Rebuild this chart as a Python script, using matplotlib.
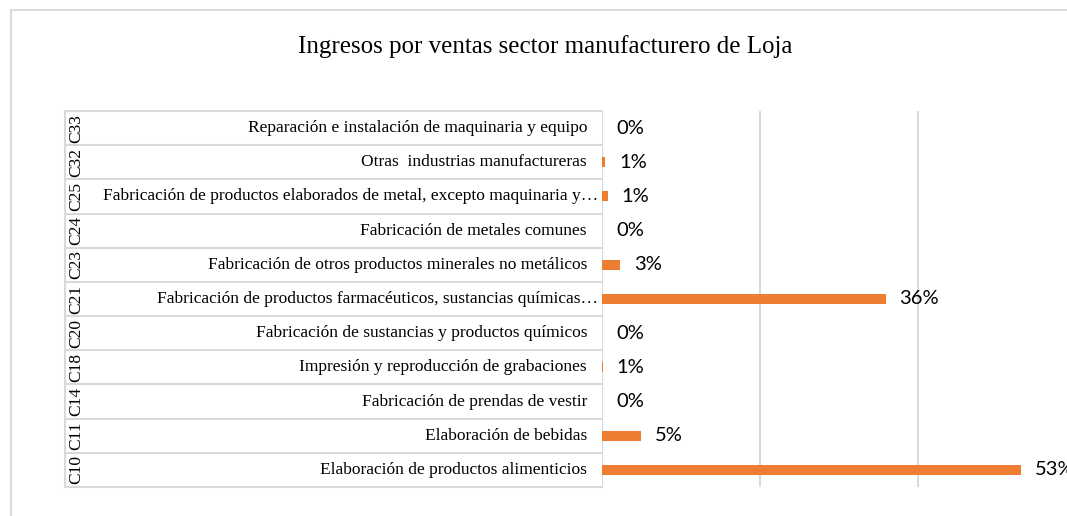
import matplotlib
matplotlib.use("Agg")
import matplotlib.pyplot as plt
from matplotlib.lines import Line2D
from matplotlib.transforms import blended_transform_factory

# Data (bottom row first)
codes = ['C10', 'C11', 'C14', 'C18', 'C20', 'C21', 'C23', 'C24', 'C25', 'C32', 'C33']
sectors = [
    'Elaboración de productos alimenticios',
    'Elaboración de bebidas',
    'Fabricación de prendas de vestir',
    'Impresión y reproducción de grabaciones',
    'Fabricación de sustancias y productos químicos',
    'Fabricación de productos farmacéuticos, sustancias químicas…',
    'Fabricación de otros productos minerales no metálicos',
    'Fabricación de metales comunes',
    'Fabricación de productos elaborados de metal, excepto maquinaria y…',
    'Otras  industrias manufactureras',
    'Reparación e instalación de maquinaria y equipo',
]
shares = [53.0, 4.9, 0.0, 0.1, 0.0, 35.9, 2.3, 0.0, 0.7, 0.4, 0.0]
share_labels = ['53%', '5%', '0%', '1%', '0%', '36%', '3%', '0%', '1%', '1%', '0%']

W, H = 1067, 516
grid_col = '#D9D9D9'
bar_col = '#ED7D31'

fig = plt.figure(figsize=(W / 100, H / 100), dpi=100)

# plot area in pixels
x0, x1 = 602, 1076
y_top, y_bot = 111, 487
ax = fig.add_axes([x0 / W, 1 - y_bot / H, (x1 - x0) / W, (y_bot - y_top) / H])

pos = list(range(len(codes)))
ax.barh(pos, shares, height=0.29, color=bar_col, zorder=3)
ax.set_xlim(0, 60)
ax.set_ylim(-0.5, len(codes) - 0.5)
ax.set_xticks([0, 20, 40, 60])
ax.set_yticks([])
ax.tick_params(axis='x', length=0, labelbottom=False)
ax.grid(axis='x', color=grid_col, linewidth=1.5, zorder=0)
for s in ax.spines.values():
    s.set_visible(False)
ax.axvline(0, color=grid_col, linewidth=1.5, zorder=1)

# data labels
for p, v, lab in zip(pos, shares, share_labels):
    ax.annotate(lab, (v, p), xytext=(14, 0), textcoords='offset pixels',
                ha='left', va='center', fontsize=14.5, family='Lato',
                color='#000000', annotation_clip=False)

# category table to the left of the plot
tr = blended_transform_factory(fig.transFigure, ax.transData)
left_px = 65
for i in range(len(codes) + 1):
    fig.add_artist(Line2D([left_px / W, x0 / W], [i - 0.5, i - 0.5], transform=tr,
                          color=grid_col, linewidth=1.5))
fig.add_artist(Line2D([left_px / W, left_px / W], [-0.5, len(codes) - 0.5], transform=tr,
                      color=grid_col, linewidth=1.5))

for p, code, name in zip(pos, codes, sectors):
    xr = 598 if name.endswith('…') else 587
    fig.text(xr / W, p, name, transform=tr, ha='right', va='center',
             fontsize=12.5, family='Liberation Serif')
    fig.text(76 / W, p, code, transform=tr, ha='center', va='center',
             rotation=90, fontsize=12.5, family='Liberation Serif')

# title
fig.text(545 / W, 1 - 47 / H, 'Ingresos por ventas sector manufacturero de Loja',
         ha='center', va='center', fontsize=18, family='Liberation Serif')

# chart border (left and top visible)
fig.add_artist(Line2D([11 / W, 11 / W], [0, 1 - 10 / H], color=grid_col, linewidth=1.5))
fig.add_artist(Line2D([11 / W, 1], [1 - 10 / H, 1 - 10 / H], color=grid_col, linewidth=1.5))

fig.savefig('out.png', dpi=100)
